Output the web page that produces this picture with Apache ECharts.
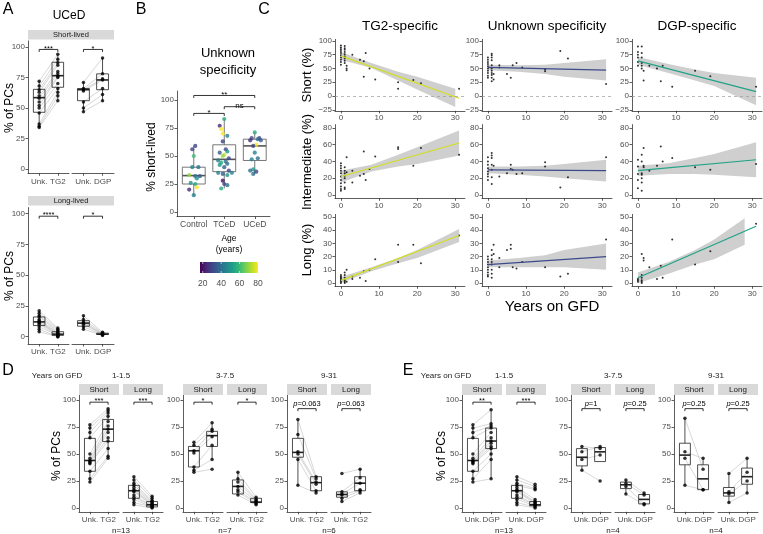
<!DOCTYPE html>
<html><head><meta charset="utf-8">
<script src="https://cdn.jsdelivr.net/npm/echarts@6/dist/echarts.min.js"></script>
<style>html,body{margin:0;padding:0;background:#fff}#c{width:763px;height:534px}</style>
</head><body><div id="c"></div>
<script>
// ================= DATA =================
// tick labels / categories
const pctTicks = [0, 25, 50, 75, 100];
const labTG2 = ['Unk.', 'TG2'];
const labDGP = ['Unk.', 'DGP'];
const B_cats = ['Control', 'TCeD', 'UCeD'];
const C_xTicks = [0, 10, 20, 30];
const C_yTicksShort = [-25, 0, 25, 50, 75, 100];
const C_yTicksInter = [0, 20, 40, 60, 80];
const C_yTicksLong = [0, 10, 20, 30, 40, 50];
const ageTicks = [20, 40, 60, 80];
const D_groups = ['1-1.5', '3-7.5', '9-31'];
const D_n = ['n=13', 'n=7', 'n=6'];
const E_n = ['n=13', 'n=4', 'n=4'];

// ---- Panel A (UCeD) : paired values, box stats [min,q1,med,q3,max]
const A_shortTG2_unk = [72, 68, 65, 63, 60, 58, 55, 52, 50, 46, 37, 35, 34];
const A_shortTG2_tg2 = [94, 90, 87, 85, 80, 78, 76, 75, 70, 66, 63, 60, 56];
const A_shortTG2_box = [[34, 46.5, 58.5, 65.3, 72], [56, 67, 76.5, 87.5, 94]];
const A_shortDGP_unk = [71, 66, 65, 64, 55, 50, 47];
const A_shortDGP_dgp = [91, 78, 74, 73, 66, 61, 56];
const A_shortDGP_box = [[47, 56, 65, 66, 71], [56, 65, 73, 78, 91]];
const A_longTG2_unk = [21, 19, 17, 16, 14, 13, 12, 12, 11, 10, 8, 6, 4];
const A_longTG2_tg2 = [7, 6, 5, 4, 3, 3, 2, 2, 2, 1, 1, 0, 0];
const A_longTG2_box = [[4, 9, 12, 16, 21], [0, 1, 2, 4, 7]];
const A_longDGP_unk = [17, 14, 12, 11, 10, 8, 6];
const A_longDGP_dgp = [3.5, 3, 2.5, 2, 2, 1.5, 1];
const A_longDGP_box = [[6, 8.5, 11, 13, 17], [1, 1.8, 2, 2.8, 3.5]];
const A_brackets = [[98, '***'], [98, '*'], [98, '****'], [98, '*']];

// ---- Panel B : [x (jittered), % short-lived, age]
const B_control = [[1.05,59,30],[0.95,56,30],[1.0,50,60],[0.95,40,45],[1.15,40,40],[0.85,33,70],[1.05,32,40],[1.2,32,35],[1.1,30,50],[0.9,26,50],[1.05,25,55],[1.1,22,80],[0.85,20,25],[1.0,15,45]];
const B_tced = [[2.0,83,55],[1.85,77,25],[1.9,74,80],[1.95,70,80],[2.1,68,45],[1.95,63,30],[2.05,56,30],[1.85,53,35],[2.1,54,50],[2.0,51,75],[1.95,50,70],[2.15,48,30],[1.8,46,45],[2.05,45,40],[1.9,44,55],[2.1,43,40],[1.85,42,50],[2.0,40,35],[2.15,37,30],[1.8,35,45],[1.95,34,35],[2.25,35,45],[2.1,33,50],[1.95,28,20],[2.0,25,30],[2.1,24,40],[1.9,21,55]];
const B_uced = [[3.0,71,55],[2.9,66,30],[3.15,66,30],[3.1,65,40],[2.85,64,25],[3.2,64,35],[3.05,60,80],[2.95,59,30],[3.0,53,45],[3.1,48,40],[2.9,47,45],[2.95,38,50],[2.85,37,40],[3.05,36,30],[2.95,34,40]];
const B_box = [[14, 25, 32.5, 40, 59], [21, 36, 47, 60, 83], [34, 46, 59, 65, 71]];
const B_brackets = [[1, 2, 88, '*'], [2, 3, 94, 'ns'], [1, 3, 104, '**']];
const B_ageRange = [17, 80];

// ---- Panel C : scatter [years on GFD, %]
const C_TG2_short = [[0,92],[0,88],[0,85],[0,82],[0,78],[0,74],[0,70],[0,66],[0,62],[0,57],[1,91],[1,87],[1,84],[1,80],[1,76],[1,72],[1,68],[1,64],[1,60],[1.5,55],[1.5,50],[1.5,47],[3,75],[5,66],[6,63],[6.5,78],[6,35],[7.5,50],[9,30],[15,25],[15,13],[19,29],[21,23],[31,13]];
const C_TG2_inter = [[0,38],[0,35],[0,32],[0,29],[0,26],[0,22],[0,18],[0,14],[0,10],[0,7],[0,5],[1,33],[1,29],[1,26],[1,23],[1,20],[1,15],[1,9],[1,7],[1.5,45],[1.5,27],[3,29],[3,15],[5,23],[6,52],[6,25],[6.5,18],[7.5,31],[9,46],[15,55],[15,57],[19,35],[21,56],[31,48]];
const C_TG2_long = [[0,6],[0,5],[0,4],[0,3],[0,2],[0,1],[0,0],[1,8],[1,6],[1,4],[1,2],[1,1],[1,0],[1.5,10],[1.5,1],[3,3],[3,5],[5,4],[6,9],[6.5,1.5],[7.5,10],[9,18],[15,29],[15,16],[19,29],[21,15],[31,36]];
const C_UNK_short = [[0,70],[0,66],[0,62],[0,58],[0,54],[0,50],[0,46],[0,42],[0,37],[0,33],[1,77],[1,74],[1,70],[1,65],[1,56],[1,50],[1,46],[1,42],[1,38],[1,33],[1,27],[1.5,30],[1.5,40],[3,56],[3,52],[5,40],[6,33],[6.5,56],[7.5,60],[9,52],[15,45],[15,48],[19,82],[21,68],[31,22]];
const C_UNK_inter = [[0,45],[0,40],[0,36],[0,32],[0,28],[0,25],[0,22],[0,18],[1,50],[1,47],[1,44],[1,36],[1,30],[1,21],[1,13],[1.5,35],[3,22],[5,26],[6,36],[6,31],[6.5,30],[7.5,25],[9,26],[15,39],[15,34],[19,9],[21,21],[31,45]];
const C_UNK_long = [[0,20],[0,18],[0,16],[0,14],[0,12],[0,10],[0,8],[0,6],[0,5],[1,25],[1,21],[1,18],[1,16],[1,14],[1,10],[1,7],[1,4],[1.5,29],[1.5,22],[3,19],[3,12],[5,25],[6,29],[6,26],[6.5,12],[7.5,11],[9,16],[15,12],[19,5],[21,7],[31,33]];
const C_DGP_short = [[0,90],[0,80],[0,75],[0,70],[0,62],[0,55],[1,90],[1,78],[1,70],[1,60],[1,55],[1,50],[1.5,46],[1.5,28],[3,55],[5,50],[6,27],[6.5,55],[9,17],[15,46],[19,36],[31,17]];
const C_DGP_inter = [[0,42],[0,34],[0,25],[0,18],[0,8],[1,48],[1,40],[1,26],[1,24],[1,20],[1,15],[1,5],[1.5,56],[1.5,35],[1.5,33],[3,29],[5,35],[6,58],[6.5,40],[9,44],[15,33],[19,30],[31,37]];
const C_DGP_long = [[0,3],[0,2],[0,1],[1,6],[1,4],[1,2],[1,1],[1,0],[1,22],[1.5,19],[1.5,17],[3,12],[5,3],[6,13],[6.5,4],[9,33],[15,14],[19,24],[31,45]];
// fitted lines: y at x = C_fitX[0] and C_fitX[1], rows short/inter/long
const C_fitX = [0, 31];
const C_fit_TG2 = [[73, -4], [22, 62], [2, 36]];
const C_fit_UNK = [[52, 47], [30, 29], [14, 20]];
const C_fit_DGP = [[64, 8], [29, 42], [4, 43]];
// confidence bands: x positions, then [lower[], upper[]]
const C_bandX = [0, 8, 15, 20, 31];
const C_bandX_short = [0, 8, 15, 20, 30];
const C_bandX_dgpLong = [0, 8, 15, 20, 28];
const C_band_TG2_short = [[66, 51, 28, 12, -20], [80, 60, 44, 35, 13]];
const C_band_TG2_inter = [[15, 28, 34, 37, 47], [29, 36, 48, 57, 77]];
const C_band_TG2_long  = [[0, 9, 15, 19, 31], [4.5, 12, 19, 25, 41]];
const C_band_UNK_short = [[47, 44, 40, 35, 28], [57, 56, 57, 60, 67]];
const C_band_UNK_inter = [[26, 24, 22, 20, 16], [34, 34, 35, 37, 42]];
const C_band_UNK_long  = [[12, 12, 12, 12, 10], [17, 19, 21, 25, 30]];
const C_band_DGP_short = [[57, 42, 28, 18, -17], [71, 58, 48, 42, 33]];
const C_band_DGP_inter = [[23, 25, 25, 24, 21], [35, 38, 44, 49, 63]];
const C_band_DGP_long  = [[0, 7, 14, 18, 29], [8, 16, 25, 33, 49]];

// ---- Panel D (Unk. vs TG2 by years on GFD)
const D1_short_unk = [77, 74, 70, 65, 50, 46, 44, 43, 42, 41, 34, 27, 24];
const D1_short_tg2 = [92, 90, 88, 85, 80, 76, 73, 70, 65, 62, 55, 48, 46];
const D1_short_box = [[24, 34, 44, 64.5, 77], [46, 61.5, 73, 82, 92]];
const D1_long_unk = [29, 26, 23, 21, 19, 17, 16, 15, 12, 10, 8, 5, 3];
const D1_long_tg2 = [11, 9, 7, 6, 5, 4, 3, 3, 2, 2, 1, 1, 0];
const D1_long_box = [[3, 9, 16, 21, 29], [0, 1, 3, 6, 11]];
const D2_short_unk = [61, 58, 53, 51, 38, 35, 33];
const D2_short_tg2 = [79, 73, 71, 66, 58, 45, 36];
const D2_short_box = [[33, 38, 53, 57, 61], [45, 57, 67, 71, 79]];
const D2_long_unk = [33, 27, 24, 20, 17, 15, 12];
const D2_long_tg2 = [10, 8, 7, 6, 5, 4, 3];
const D2_long_box = [[12, 13, 20, 26, 33], [3, 5, 5.5, 9, 10]];
const D3_short_unk = [82, 68, 52, 50, 45, 21];
const D3_short_tg2 = [29, 27, 24, 22, 16, 14];
const D3_short_box = [[21, 47, 51.5, 64.5, 82], [14, 16, 23.5, 29, 29]];
const D3_long_unk = [32, 15, 13, 12, 9, 6];
const D3_long_tg2 = [36, 28, 23, 17, 16, 14];
const D3_long_box = [[6, 10, 12.5, 15, 16], [14, 16, 23, 29, 37]];
const D_brackets = [[98, '***'], [98, '***'], [98, '*'], [98, '*'], [92, 'p=0.063'], [92, 'p=0.063']];

// ---- Panel E (Unk. vs DGP by years on GFD)
const E1_short_unk = [77, 74, 70, 65, 50, 46, 44, 43, 42, 41, 34, 27, 24];
const E1_short_dgp = [91, 78, 76, 74, 70, 65, 62, 60, 57, 55, 50, 45, 27];
const E1_short_box = [[24, 34, 44, 64.5, 77], [27, 55, 62, 74, 91]];
const E1_long_unk = [29, 26, 23, 21, 19, 17, 16, 15, 12, 10, 8, 5, 3];
const E1_long_dgp = [22, 20, 18, 17, 8, 6, 5, 4, 3, 3, 2, 1, 0];
const E1_long_box = [[3, 9, 16, 21, 29], [0, 2, 3, 6, 8]];
const E2_short_unk = [57, 52, 45, 35];
const E2_short_dgp = [55, 57, 49, 25];
const E2_short_box = [[35, 39, 47, 55, 57], [43, 43, 52, 56, 57]];
const E2_long_unk = [26, 23, 20, 13];
const E2_long_dgp = [14, 12, 4, 3];
const E2_long_box = [[13, 18, 21.5, 24, 26], [3, 3.8, 8, 12.5, 14]];
const E3_short_unk = [83, 52, 46, 21];
const E3_short_dgp = [36, 46, 17, 17];
const E3_short_box = [[21, 40, 49, 60, 83], [17, 17, 27, 40, 46]];
const E3_long_unk = [32, 15, 13, 5];
const E3_long_dgp = [46, 33, 25, 14];
const E3_long_box = [[5, 11, 14, 19, 32], [14, 22, 29, 37, 46]];
const E_brackets = [[98, '**'], [98, '***'], [92, 'p=1'], [92, 'p=0.25'], [92, 'p=0.25'], [92, 'p=0.25']];

// ================= BUILD =================
const chart = echarts.init(document.getElementById('c'), null, {renderer: 'canvas'});
const grids = [], xAxes = [], yAxes = [], series = [], gfx = [];
const FONT = '"Liberation Sans", Arial, Helvetica, sans-serif';
const AX = '#333333', TXT = '#4d4d4d';
const VIRIDIS = ['#440154', '#482878', '#3e4989', '#31688e', '#26828e', '#1f9e89', '#35b779', '#6ece58', '#b5de2b', '#fde725'];
const minus = v => (v < 0 ? '\u2212' + Math.abs(v) : String(v));

function addGrid(g) {
  const i = grids.length;
  const showY = g.showY !== false;
  grids.push({left: g.left, top: g.top, width: g.width, height: g.height, containLabel: false, outerBoundsMode: 'none', show: false});
  xAxes.push({type: 'value', gridIndex: i, min: g.xmin, max: g.xmax,
    axisLine: {show: true, onZero: false, lineStyle: {color: AX, width: 0.8}},
    axisTick: {show: true, length: 2.5, customValues: g.xTicks, lineStyle: {color: AX, width: 0.8}},
    axisLabel: {show: true, customValues: g.xTicks, formatter: g.xFmt || (v => String(v)), color: TXT, fontSize: g.xSize || 8, fontFamily: FONT, margin: g.xMargin || 3, hideOverlap: false},
    splitLine: {show: false}, splitArea: {show: false}});
  const ya = {type: 'value', gridIndex: i, min: g.ymin, max: g.ymax,
    axisLine: {show: showY, onZero: false, lineStyle: {color: AX, width: 0.8}},
    axisTick: {show: showY, length: 2.5, lineStyle: {color: AX, width: 0.8}},
    axisLabel: {show: showY, formatter: minus, color: TXT, fontSize: g.ySize || 8, fontFamily: FONT, margin: 3, hideOverlap: false},
    splitLine: {show: false}, splitArea: {show: false}};
  if (showY) { ya.axisTick.customValues = g.yTicks; ya.axisLabel.customValues = g.yTicks; }
  yAxes.push(ya);
  return i;
}

function pairLine(p, api) {
  const a = api.coord([api.value(0), api.value(1)]), b = api.coord([api.value(2), api.value(3)]);
  return {type: 'line', shape: {x1: a[0], y1: a[1], x2: b[0], y2: b[1]}, style: {stroke: '#c6c6c6', lineWidth: 0.7}};
}
function boxRenderer(wUnits, color, lw, mlw) {
  return function (p, api) {
    const x = api.value(0);
    const c = k => api.coord([x, api.value(k)]);
    const mn = c(1), q1 = c(2), md = c(3), q3 = c(4), mx = c(5);
    const hw = api.size([wUnits, 0])[0] / 2;
    const st = {stroke: color, lineWidth: lw, fill: null};
    return {type: 'group', children: [
      {type: 'line', shape: {x1: mn[0], y1: mn[1], x2: q1[0], y2: q1[1]}, style: st},
      {type: 'line', shape: {x1: q3[0], y1: q3[1], x2: mx[0], y2: mx[1]}, style: st},
      {type: 'rect', shape: {x: q3[0] - hw, y: q3[1], width: 2 * hw, height: q1[1] - q3[1]}, style: {stroke: color, lineWidth: lw, fill: 'rgba(255,255,255,0)'}},
      {type: 'line', shape: {x1: md[0] - hw, y1: md[1], x2: md[0] + hw, y2: md[1]}, style: {stroke: color, lineWidth: mlw}}
    ]};
  };
}
function bracketRenderer(labels, fs) {
  return function (p, api) {
    const a = api.coord([api.value(0), api.value(2)]), b = api.coord([api.value(1), api.value(2)]);
    const lab = labels[p.dataIndex];
    const isP = lab.indexOf('p=') === 0;
    const rich = {i: {fontStyle: 'italic', fontSize: fs, fontFamily: FONT, fill: '#000'}, n: {fontSize: fs, fontFamily: FONT, fill: '#000'}};
    return {type: 'group', children: [
      {type: 'polyline', shape: {points: [[a[0], a[1] + 2.5], [a[0], a[1]], [b[0], b[1]], [b[0], b[1] + 2.5]]}, style: {stroke: '#000', lineWidth: 0.8, fill: null}},
      {type: 'text', x: (a[0] + b[0]) / 2, y: isP ? a[1] - 0.5 : a[1] + 3,
        style: {text: isP ? ('{i|p}{n|' + lab.slice(1) + '}') : lab, rich: rich, fontSize: fs, fontFamily: FONT, fill: '#000', align: 'center', verticalAlign: 'bottom'}}
    ]};
  };
}

function pairFacet(o) {
  const gi = addGrid({left: o.left, top: o.top, width: o.width, height: o.height, xmin: 0.4, xmax: 2.6, ymin: o.ymin, ymax: o.ymax,
    xTicks: [1, 2], xFmt: v => o.labels[Math.round(v) - 1], yTicks: pctTicks, showY: o.showY, xSize: o.xSize || 8, xMargin: 4});
  series.push({type: 'custom', xAxisIndex: gi, yAxisIndex: gi, silent: true, z: 1, renderItem: pairLine,
    encode: {x: 0, y: 1}, data: o.unk.map((u, k) => [1, u, 2, o.oth[k]])});
  series.push({type: 'custom', xAxisIndex: gi, yAxisIndex: gi, silent: true, z: 2, renderItem: boxRenderer(o.boxW, '#222', 0.8, 1.6),
    encode: {x: 0, y: 1}, data: o.box.map((s, k) => [k + 1].concat(s))});
  series.push({type: 'scatter', xAxisIndex: gi, yAxisIndex: gi, silent: true, z: 3, symbol: 'circle', symbolSize: o.ps || 3.5,
    itemStyle: {color: '#000', borderWidth: 0}, data: o.unk.map(u => [1, u]).concat(o.oth.map(v => [2, v]))});
  if (o.br) {
    series.push({type: 'custom', xAxisIndex: gi, yAxisIndex: gi, silent: true, z: 4, renderItem: bracketRenderer([o.br[1]], o.brSize || 7.5),
      encode: {x: 0, y: 2}, data: [[1, 2, o.br[0]]]});
  }
  return gi;
}

function T(x, y, text, size, opt) {
  opt = opt || {};
  gfx.push({type: 'text', x: x, y: y, rotation: opt.rot || 0, z: 100, silent: true,
    style: {text: text, fill: opt.color || '#000', fontSize: size, fontFamily: FONT, fontStyle: opt.style || 'normal',
      align: opt.align || 'center', verticalAlign: opt.va || 'middle', textAlign: opt.align || 'center', textVerticalAlign: opt.va || 'middle'}});
}
function S(x, y, w, h, text, size) {
  gfx.push({type: 'rect', shape: {x: x, y: y, width: w, height: h}, style: {fill: '#d9d9d9'}, z: 50, silent: true});
  T(x + w / 2, y + h / 2 + 0.5, text, size || 7.5, {color: '#1a1a1a'});
}

// ---------- Panel A ----------
T(8, 10, 'A', 16);
T(69, 16, 'UCeD', 12);
S(28, 30, 86, 9.5, 'Short-lived', 7.5);
S(28, 196, 86, 9.5, 'Long-lived', 7.5);
T(10, 108, '% of PCs', 12, {rot: Math.PI / 2});
T(10, 276, '% of PCs', 12, {rot: Math.PI / 2});
{
  const top1 = 40.9, h1 = 132.4, top2 = 207.6, h2 = 136.4;
  pairFacet({left: 28, top: top1, width: 41, height: h1, ymin: -3.5, ymax: 105, showY: true, labels: labTG2,
    unk: A_shortTG2_unk, oth: A_shortTG2_tg2, box: A_shortTG2_box, br: A_brackets[0], boxW: 0.62});
  pairFacet({left: 72, top: top1, width: 42, height: h1, ymin: -3.5, ymax: 105, showY: false, labels: labDGP,
    unk: A_shortDGP_unk, oth: A_shortDGP_dgp, box: A_shortDGP_box, br: A_brackets[1], boxW: 0.62});
  pairFacet({left: 28, top: top2, width: 41, height: h2, ymin: -6, ymax: 105, showY: true, labels: labTG2,
    unk: A_longTG2_unk, oth: A_longTG2_tg2, box: A_longTG2_box, br: A_brackets[2], boxW: 0.62});
  pairFacet({left: 72, top: top2, width: 42, height: h2, ymin: -6, ymax: 105, showY: false, labels: labDGP,
    unk: A_longDGP_unk, oth: A_longDGP_dgp, box: A_longDGP_box, br: A_brackets[3], boxW: 0.62});
}

// ---------- Panel B ----------
T(141, 10, 'B', 16);
T(228, 53, 'Unknown', 13);
T(228, 70, 'specificity', 13);
T(152, 157, '% short-lived', 12, {rot: Math.PI / 2});
let bScatterIndex;
{
  const gi = addGrid({left: 177, top: 91, width: 93, height: 125.5, xmin: 0.45, xmax: 3.5, ymin: -4, ymax: 108,
    xTicks: [1, 2, 3], xFmt: v => B_cats[Math.round(v) - 1], yTicks: pctTicks, xSize: 8.5, xMargin: 4});
  series.push({type: 'custom', xAxisIndex: gi, yAxisIndex: gi, silent: true, z: 2, renderItem: boxRenderer(0.75, '#555', 0.8, 1.6),
    encode: {x: 0, y: 1}, data: B_box.map((s, k) => [k + 1].concat(s))});
  bScatterIndex = series.length;
  series.push({type: 'scatter', xAxisIndex: gi, yAxisIndex: gi, silent: true, z: 3, symbol: 'circle', symbolSize: 4.2,
    itemStyle: {borderWidth: 0}, data: B_control.concat(B_tced, B_uced)});
  series.push({type: 'custom', xAxisIndex: gi, yAxisIndex: gi, silent: true, z: 4, renderItem: bracketRenderer(B_brackets.map(b => b[3]), 8),
    encode: {x: 0, y: 2}, data: B_brackets.map(b => [b[0], b[1], b[2]])});
}
T(229, 239, 'Age', 8.5);
T(229, 250, '(years)', 8.5);
{
  const cbX = 200, cbW = 58, cbY = 262, cbH = 11;
  gfx.push({type: 'rect', shape: {x: cbX, y: cbY, width: cbW, height: cbH}, z: 60, silent: true,
    style: {fill: new echarts.graphic.LinearGradient(0, 0, 1, 0, VIRIDIS.map((c, k) => ({offset: k / (VIRIDIS.length - 1), color: c})))}});
  ageTicks.forEach(a => {
    const px = cbX + (a - B_ageRange[0]) / (B_ageRange[1] - B_ageRange[0]) * cbW;
    gfx.push({type: 'line', shape: {x1: px, y1: cbY, x2: px, y2: cbY + 2}, style: {stroke: '#fff', lineWidth: 0.6}, z: 61, silent: true});
    gfx.push({type: 'line', shape: {x1: px, y1: cbY + cbH - 2, x2: px, y2: cbY + cbH}, style: {stroke: '#fff', lineWidth: 0.6}, z: 61, silent: true});
    T(px, 284, String(a), 8.5, {color: TXT});
  });
}

// ---------- Panel C ----------
T(264, 10, 'C', 16);
{
  const lefts = [335, 482, 632], w = 130, xmin = -1.55, xmax = 32.55;
  const rows = [
    {top: 39.35, h: 71.5, ymin: -27, ymax: 103, ticks: C_yTicksShort},
    {top: 124.6, h: 73.7, ymin: -4, ymax: 84, ticks: C_yTicksInter},
    {top: 214.4, h: 71.9, ymin: -2.5, ymax: 52, ticks: C_yTicksLong}];
  const pts = [[C_TG2_short, C_TG2_inter, C_TG2_long], [C_UNK_short, C_UNK_inter, C_UNK_long], [C_DGP_short, C_DGP_inter, C_DGP_long]];
  const fits = [C_fit_TG2, C_fit_UNK, C_fit_DGP];
  const bands = [[C_band_TG2_short, C_band_TG2_inter, C_band_TG2_long], [C_band_UNK_short, C_band_UNK_inter, C_band_UNK_long], [C_band_DGP_short, C_band_DGP_inter, C_band_DGP_long]];
  const bandXs = [[C_bandX_short, C_bandX, C_bandX], [C_bandX, C_bandX, C_bandX], [C_bandX, C_bandX, C_bandX_dgpLong]];
  const colors = ['#d2df1d', '#3c4a8c', '#20a386'];
  for (let c = 0; c < 3; c++) {
    for (let r = 0; r < 3; r++) {
      const R = rows[r];
      const gi = addGrid({left: lefts[c], top: R.top, width: w, height: R.h, xmin: xmin, xmax: xmax, ymin: R.ymin, ymax: R.ymax,
        xTicks: C_xTicks, yTicks: R.ticks, xSize: 8, ySize: 8, xMargin: 3});
      const bx = bandXs[c][r], bl = bands[c][r];
      series.push({type: 'custom', xAxisIndex: gi, yAxisIndex: gi, silent: true, z: 1, encode: {x: 0, y: 1}, data: [[bx[0], bl[0][0]]],
        renderItem: function (p, api) {
          const poly = [];
          for (let k = 0; k < bx.length; k++) poly.push(api.coord([bx[k], bl[1][k]]));
          for (let k = bx.length - 1; k >= 0; k--) poly.push(api.coord([bx[k], bl[0][k]]));
          return {type: 'polygon', shape: {points: poly}, style: {fill: '#cfcfcf'}};
        }});
      const sc = {type: 'scatter', xAxisIndex: gi, yAxisIndex: gi, silent: true, z: 3, symbol: 'circle', symbolSize: 2,
        itemStyle: {color: '#000', borderWidth: 0}, data: pts[c][r]};
      if (r === 0) sc.markLine = {silent: true, symbol: 'none', label: {show: false}, data: [{yAxis: 0}], lineStyle: {type: [3, 3], color: '#9a9a9a', width: 0.7}, animation: false};
      series.push(sc);
      series.push({type: 'line', xAxisIndex: gi, yAxisIndex: gi, silent: true, z: 4, symbol: 'none', showSymbol: false,
        lineStyle: {color: colors[c], width: 1.2}, data: [[C_fitX[0], fits[c][r][0]], [C_fitX[1], fits[c][r][1]]]});
    }
  }
  T(400, 26, 'TG2-specific', 13.5);
  T(547, 26, 'Unknown specificity', 13.5);
  T(697, 26, 'DGP-specific', 13.5);
  T(307, 75, 'Short (%)', 13, {rot: Math.PI / 2});
  T(307, 162, 'Intermediate (%)', 13, {rot: Math.PI / 2});
  T(307, 250, 'Long (%)', 13, {rot: Math.PI / 2});
  T(552, 307, 'Years on GFD', 15);
}

// ---------- Panels D & E ----------
function groupPanel(axisX, labels, shortSet, longSet, brShort, brLong, gTitle, nLab) {
  const top = 394.6, h = 117.2, fw = 40, gap = 4;
  pairFacet({left: axisX, top: top, width: fw, height: h, ymin: -3.5, ymax: 105, showY: true, labels: labels,
    unk: shortSet[0], oth: shortSet[1], box: shortSet[2], br: brShort, boxW: 0.6, brSize: 7.5});
  pairFacet({left: axisX + fw + gap, top: top, width: fw, height: h, ymin: -3.5, ymax: 105, showY: false, labels: labels,
    unk: longSet[0], oth: longSet[1], box: longSet[2], br: brLong, boxW: 0.6, brSize: 7.5});
  S(axisX, 384, fw, 11, 'Short', 8);
  S(axisX + fw + gap, 384, fw, 11, 'Long', 8);
  const cx = axisX + fw + gap / 2;
  T(cx, 376, gTitle, 8, {color: '#1a1a1a'});
  T(cx, 531, nLab, 8, {color: '#1a1a1a'});
}
T(8, 371, 'D', 16);
T(57, 376, 'Years on GFD', 8, {color: '#1a1a1a'});
T(57, 456, '% of PCs', 12, {rot: Math.PI / 2});
groupPanel(79, labTG2, [D1_short_unk, D1_short_tg2, D1_short_box], [D1_long_unk, D1_long_tg2, D1_long_box], D_brackets[0], D_brackets[1], D_groups[0], D_n[0]);
groupPanel(183, labTG2, [D2_short_unk, D2_short_tg2, D2_short_box], [D2_long_unk, D2_long_tg2, D2_long_box], D_brackets[2], D_brackets[3], D_groups[1], D_n[1]);
groupPanel(287, labTG2, [D3_short_unk, D3_short_tg2, D3_short_box], [D3_long_unk, D3_long_tg2, D3_long_box], D_brackets[4], D_brackets[5], D_groups[2], D_n[2]);

T(408, 371, 'E', 16);
T(446, 376, 'Years on GFD', 8, {color: '#1a1a1a'});
T(442, 456, '% of PCs', 12, {rot: Math.PI / 2});
groupPanel(462, labDGP, [E1_short_unk, E1_short_dgp, E1_short_box], [E1_long_unk, E1_long_dgp, E1_long_box], E_brackets[0], E_brackets[1], D_groups[0], E_n[0]);
groupPanel(571, labDGP, [E2_short_unk, E2_short_dgp, E2_short_box], [E2_long_unk, E2_long_dgp, E2_long_box], E_brackets[2], E_brackets[3], D_groups[1], E_n[1]);
groupPanel(674, labDGP, [E3_short_unk, E3_short_dgp, E3_short_box], [E3_long_unk, E3_long_dgp, E3_long_box], E_brackets[4], E_brackets[5], D_groups[2], E_n[2]);

chart.setOption({
  animation: false,
  backgroundColor: '#ffffff',
  grid: grids, xAxis: xAxes, yAxis: yAxes, series: series,
  visualMap: [{type: 'continuous', show: false, seriesIndex: bScatterIndex, dimension: 2, min: B_ageRange[0], max: B_ageRange[1], inRange: {color: VIRIDIS}}],
  graphic: gfx
});
</script></body></html>
